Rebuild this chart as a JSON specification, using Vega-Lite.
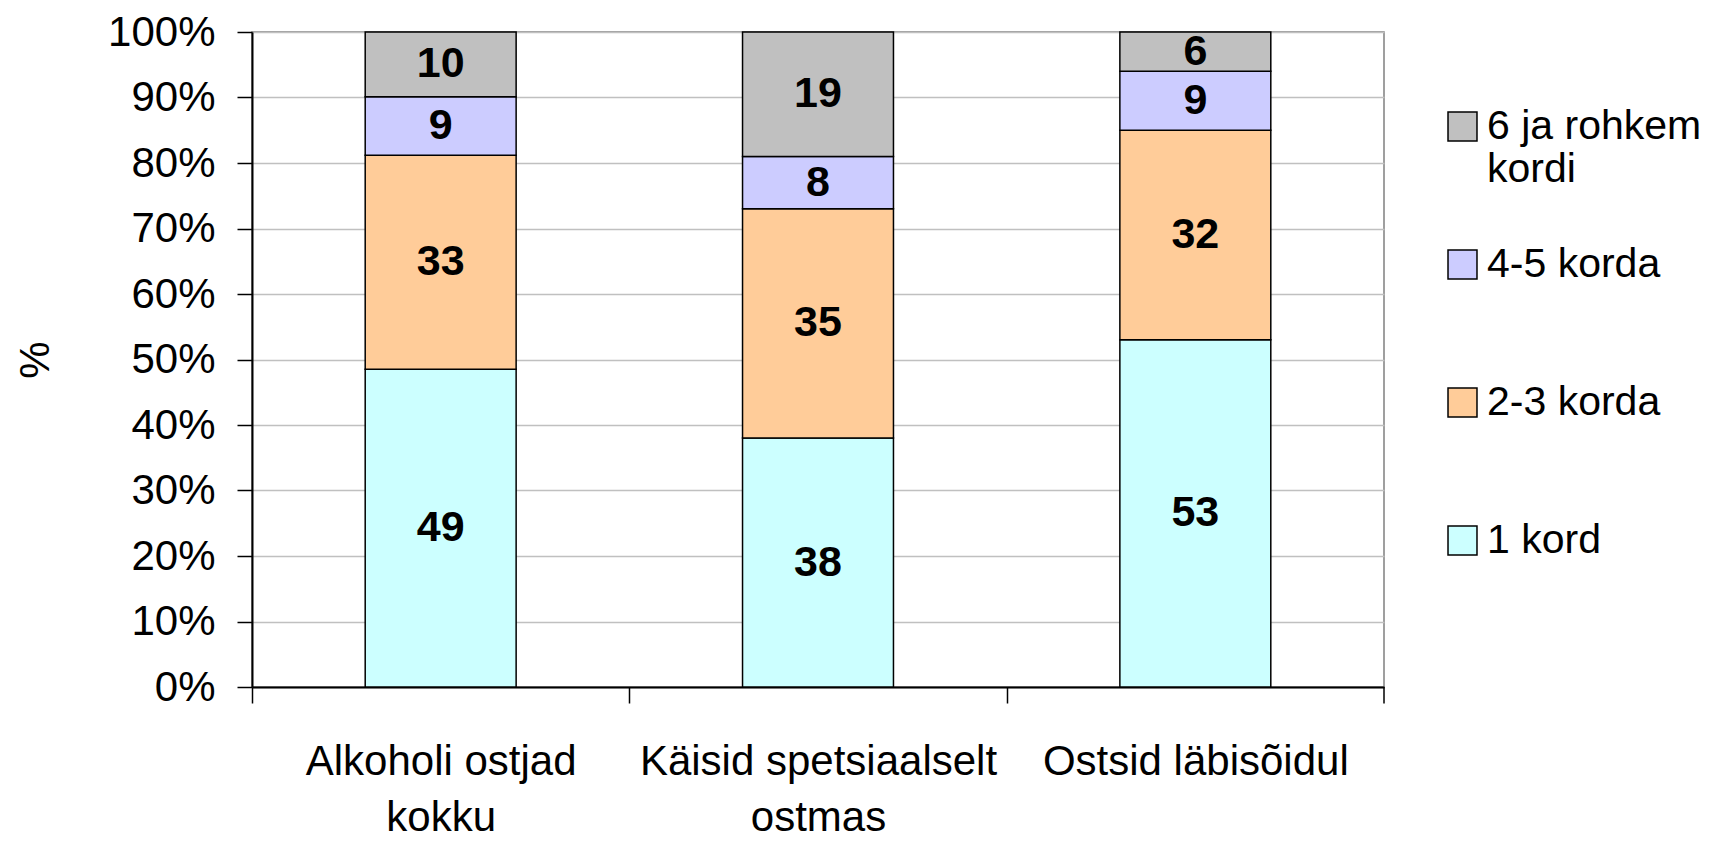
{
  "$schema": "https://vega.github.io/schema/vega-lite/v6.json",
  "width": 1132,
  "height": 655,
  "autosize": {"type": "none"},
  "padding": {"left": 252, "top": 32, "right": 328, "bottom": 157},
  "background": "white",
  "config": {
    "font": "Liberation Sans",
    "view": {"stroke": "#808080", "strokeWidth": 1.5},
    "axis": {"labelFont": "Liberation Sans", "titleFont": "Liberation Sans", "labelColor": "black", "titleColor": "black"},
    "legend": {"labelFont": "Liberation Sans"}
  },
  "data": {
    "values": [
      {"cat": "Alkoholi ostjad kokku", "grp": "1 kord", "v": 49},
      {"cat": "Alkoholi ostjad kokku", "grp": "2-3 korda", "v": 33},
      {"cat": "Alkoholi ostjad kokku", "grp": "4-5 korda", "v": 9},
      {"cat": "Alkoholi ostjad kokku", "grp": "6 ja rohkem kordi", "v": 10},
      {"cat": "Käisid spetsiaalselt ostmas", "grp": "1 kord", "v": 38},
      {"cat": "Käisid spetsiaalselt ostmas", "grp": "2-3 korda", "v": 35},
      {"cat": "Käisid spetsiaalselt ostmas", "grp": "4-5 korda", "v": 8},
      {"cat": "Käisid spetsiaalselt ostmas", "grp": "6 ja rohkem kordi", "v": 19},
      {"cat": "Ostsid läbisõidul", "grp": "1 kord", "v": 53},
      {"cat": "Ostsid läbisõidul", "grp": "2-3 korda", "v": 32},
      {"cat": "Ostsid läbisõidul", "grp": "4-5 korda", "v": 9},
      {"cat": "Ostsid läbisõidul", "grp": "6 ja rohkem kordi", "v": 6}
    ]
  },
  "transform": [
    {"stack": "v", "groupby": ["cat"], "sort": [{"field": "grp", "order": "ascending"}], "as": ["y0", "y1"], "offset": "normalize"},
    {"calculate": "(datum.y0 + datum.y1) / 2", "as": "ym"}
  ],
  "encoding": {
    "x": {
      "field": "cat", "type": "nominal", "sort": null, "title": null,
      "scale": {"paddingInner": 0.6, "paddingOuter": 0.3},
      "axis": {
        "labelAngle": 0, "labelFontSize": 42, "labelLineHeight": 56, "labelPadding": 38,
        "labelExpr": "datum.label == 'Alkoholi ostjad kokku' ? ['Alkoholi ostjad', 'kokku'] : datum.label == 'Käisid spetsiaalselt ostmas' ? ['Käisid spetsiaalselt', 'ostmas'] : datum.label",
        "tickOffset": -188.67, "labelOffset": 188.67, "tickSize": 16, "tickColor": "black", "tickWidth": 1.5,
        "domainColor": "black", "domainWidth": 2, "grid": false, "labelLimit": 400
      }
    }
  },
  "layer": [
    {
      "mark": {"type": "bar", "stroke": "black", "strokeWidth": 1.5},
      "encoding": {
        "y": {
          "field": "y1", "type": "quantitative", "title": "%",
          "scale": {"domain": [0, 1], "nice": false},
          "axis": {
            "values": [0, 0.1, 0.2, 0.3, 0.4, 0.5, 0.6, 0.7, 0.8, 0.9, 1],
            "format": ".0%", "labelFontSize": 42, "labelPadding": 22,
            "tickSize": 15, "tickColor": "black", "tickWidth": 1.5,
            "domainColor": "black", "domainWidth": 2,
            "gridColor": "#C0C0C0", "gridWidth": 1.5,
            "titleFontSize": 42, "titleFontWeight": "normal", "titlePadding": 50
          }
        },
        "y2": {"field": "y0"},
        "color": {
          "field": "grp", "type": "nominal",
          "scale": {
            "domain": ["6 ja rohkem kordi", "4-5 korda", "2-3 korda", "1 kord"],
            "range": ["#C0C0C0", "#CCCCFF", "#FFCC99", "#CCFFFF"]
          },
          "legend": {
            "title": null, "orient": "none", "legendX": 1190, "legendY": 74,
            "symbolType": "square", "symbolSize": 840, "symbolStrokeColor": "black", "symbolStrokeWidth": 1.5,
            "symbolOpacity": 1,
            "labelFontSize": 41, "labelColor": "black", "labelLineHeight": 56, "labelOffset": 4,
            "labelLimit": 400, "rowPadding": 53,
            "labelExpr": "datum.label == '6 ja rohkem kordi' ? ['6 ja rohkem', 'kordi'] : [datum.label, '']"
          }
        }
      }
    },
    {
      "mark": {"type": "text", "fontSize": 43, "fontWeight": "bold", "color": "black", "baseline": "middle", "align": "center"},
      "encoding": {
        "y": {"field": "ym", "type": "quantitative"},
        "text": {"field": "v", "type": "quantitative"}
      }
    },
    {
      "data": {"values": [{"cat": "Ostsid läbisõidul", "a": 0, "b": -0.025}]},
      "mark": {"type": "rule", "color": "black", "strokeWidth": 1.5},
      "encoding": {
        "x": {"field": "cat", "type": "nominal", "bandPosition": 1.75},
        "y": {"field": "a", "type": "quantitative"},
        "y2": {"field": "b"}
      }
    }
  ]
}
